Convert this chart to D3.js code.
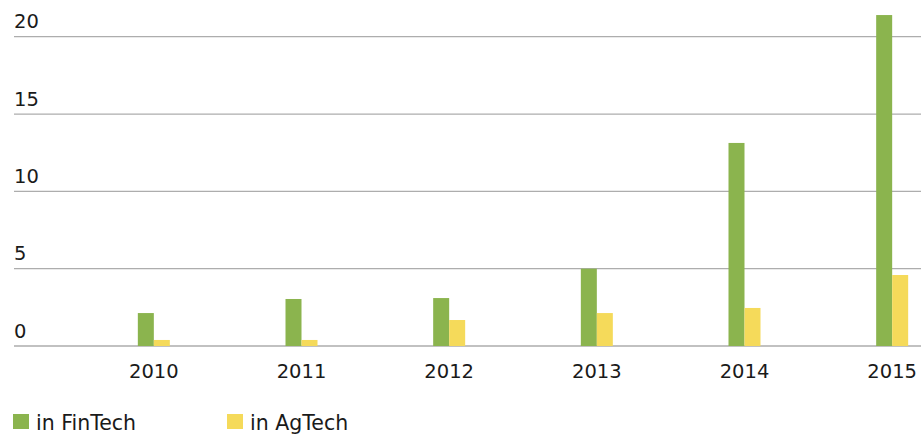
<!DOCTYPE html>
<html>
<head>
<meta charset="utf-8">
<script src="https://cdn.jsdelivr.net/npm/d3@7"></script>
<style>
  body { margin: 0; background: #fff; }
  svg { display: block; font-family: "DejaVu Sans", Verdana, sans-serif; }
</style>
</head>
<body>
<div id="chart"></div>
<script>
// data
const years = ["2010", "2011", "2012", "2013", "2014", "2015"];
const finTech = [2.13, 3.04, 3.1, 5.0, 13.13, 21.4];
const agTech = [0.39, 0.39, 1.68, 2.13, 2.46, 4.59];
const yTicks = [0, 5, 10, 15, 20];
const seriesNames = ["in FinTech", "in AgTech"];
const seriesColors = ["#8bb44e", "#f5da5a"];

var width = 921, height = 434;

var svg = d3.select("#chart")
  .append("svg")
    .attr("width", width)
    .attr("height", height);

// band scale runs past the right edge, the original picture is cropped there
var x = d3.scaleBand()
  .domain(years)
  .range([80, 966])
  .padding(0);

var y = d3.scaleLinear()
  .domain([0, 20])
  .range([346, 36.7]);

var barW = 16;

// gridlines + y labels (labels sit above the lines)
var grid = svg.append("g");
grid.selectAll("line")
  .data(yTicks)
  .enter()
  .append("line")
    .attr("x1", 14)
    .attr("x2", width)
    .attr("y1", d => y(d))
    .attr("y2", d => y(d))
    .attr("stroke", "#adadad")
    .attr("stroke-width", 1.3);

grid.selectAll("text")
  .data(yTicks)
  .enter()
  .append("text")
    .attr("x", 14)
    .attr("y", d => y(d) - 8.5)
    .attr("font-size", 19.5)
    .attr("fill", "#1a1a1a")
    .text(d => d);

// bars
var series = [finTech, agTech];
series.forEach(function (vals, s) {
  svg.append("g")
    .selectAll("rect")
    .data(vals)
    .enter()
    .append("rect")
      .attr("x", (d, i) => x(years[i]) + x.bandwidth() / 2 - barW + s * barW)
      .attr("y", d => y(d))
      .attr("width", barW)
      .attr("height", d => y(0) - y(d))
      .attr("fill", seriesColors[s]);
});

// x axis labels
svg.append("g")
  .selectAll("text")
  .data(years)
  .enter()
  .append("text")
    .attr("x", d => x(d) + x.bandwidth() / 2)
    .attr("y", 378)
    .attr("text-anchor", "middle")
    .attr("font-size", 19.5)
    .attr("fill", "#1a1a1a")
    .text(d => d);

// legend
var legendX = [13, 227];
var legend = svg.append("g")
  .selectAll("g")
  .data(seriesNames)
  .enter()
  .append("g")
    .attr("transform", (d, i) => "translate(" + legendX[i] + ",414)");

legend.append("rect")
  .attr("width", 16)
  .attr("height", 15)
  .attr("fill", (d, i) => seriesColors[i]);

legend.append("text")
  .attr("x", 23)
  .attr("y", 15.5)
  .attr("font-size", 20.5)
  .attr("fill", "#1a1a1a")
  .text(d => d);
</script>
</body>
</html>
